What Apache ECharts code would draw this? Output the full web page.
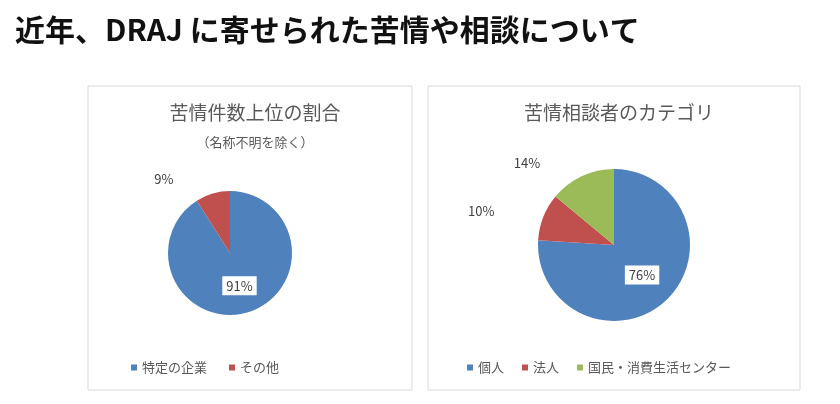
<!DOCTYPE html>
<html><head><meta charset="utf-8">
<script src="https://cdn.jsdelivr.net/npm/echarts@6/dist/echarts.min.js"></script>
<style>html,body{margin:0;padding:0;background:#fff}#c{width:840px;height:404px}</style>
</head><body><div id="c"></div>
<script>
const leftCats = ['特定の企業', 'その他'];
const leftVals = [91, 9];
const rightCats = ['個人', '法人', '国民・消費生活センター'];
const rightVals = [76, 10, 14];
const colors = ['#4f81bd', '#c0504d', '#9bbb59'];
const font = '"Noto Sans CJK JP", sans-serif';
const chart = echarts.init(document.getElementById('c'));
function mk(cats, vals, insideIdx, dist) {
  return cats.map((n, i) => ({
    name: n, value: vals[i],
    itemStyle: { color: colors[i] },
    label: i === insideIdx
      ? { position: 'inside', backgroundColor: '#fff', padding: [3, 4] }
      : { position: 'outside', distance: dist }
  }));
}
const lab = { show: true, formatter: '{c}%', fontFamily: font, fontSize: 13, color: '#404040' };
chart.setOption({
  animation: false,
  title: [
    { text: '近年、DRAJ に寄せられた苦情や相談について', left: 10, top: 10,
      textStyle: { fontFamily: font, fontSize: 30, fontWeight: 'bold', color: '#111' } },
    { text: '苦情件数上位の割合', left: 250, top: 98, textAlign: 'center',
      textStyle: { fontFamily: font, fontSize: 19, fontWeight: 'normal', color: '#595959' } },
    { text: '（名称不明を除く）', left: 250, top: 131, textAlign: 'center',
      textStyle: { fontFamily: font, fontSize: 13, fontWeight: 'normal', color: '#595959' } },
    { text: '苦情相談者のカテゴリ', left: 614, top: 98, textAlign: 'center',
      textStyle: { fontFamily: font, fontSize: 19, fontWeight: 'normal', color: '#595959' } }
  ],
  graphic: [
    { type: 'rect', shape: { x: 88, y: 86, width: 324, height: 304 }, style: { fill: 'none', stroke: '#d9d9d9', lineWidth: 1 } },
    { type: 'rect', shape: { x: 428, y: 86, width: 372, height: 304 }, style: { fill: 'none', stroke: '#d9d9d9', lineWidth: 1 } }
  ],
  legend: [
    { data: leftCats, left: 126, top: 356, icon: 'rect', itemWidth: 6, itemHeight: 6, itemGap: 22,
      textStyle: { fontFamily: font, fontSize: 13, color: '#595959' } },
    { data: rightCats, left: 462, top: 356, icon: 'rect', itemWidth: 6, itemHeight: 6, itemGap: 18,
      textStyle: { fontFamily: font, fontSize: 13, color: '#595959' } }
  ],
  series: [
    { type: 'pie', center: [230, 253], radius: 62, startAngle: 90, clockwise: true,
      label: lab, labelLine: { show: false }, data: mk(leftCats, leftVals, 0, 8) },
    { type: 'pie', center: [614, 245], radius: 76, startAngle: 90, clockwise: true,
      label: lab, labelLine: { show: false }, data: mk(rightCats, rightVals, 0, -12) }
  ]
});
</script></body></html>
